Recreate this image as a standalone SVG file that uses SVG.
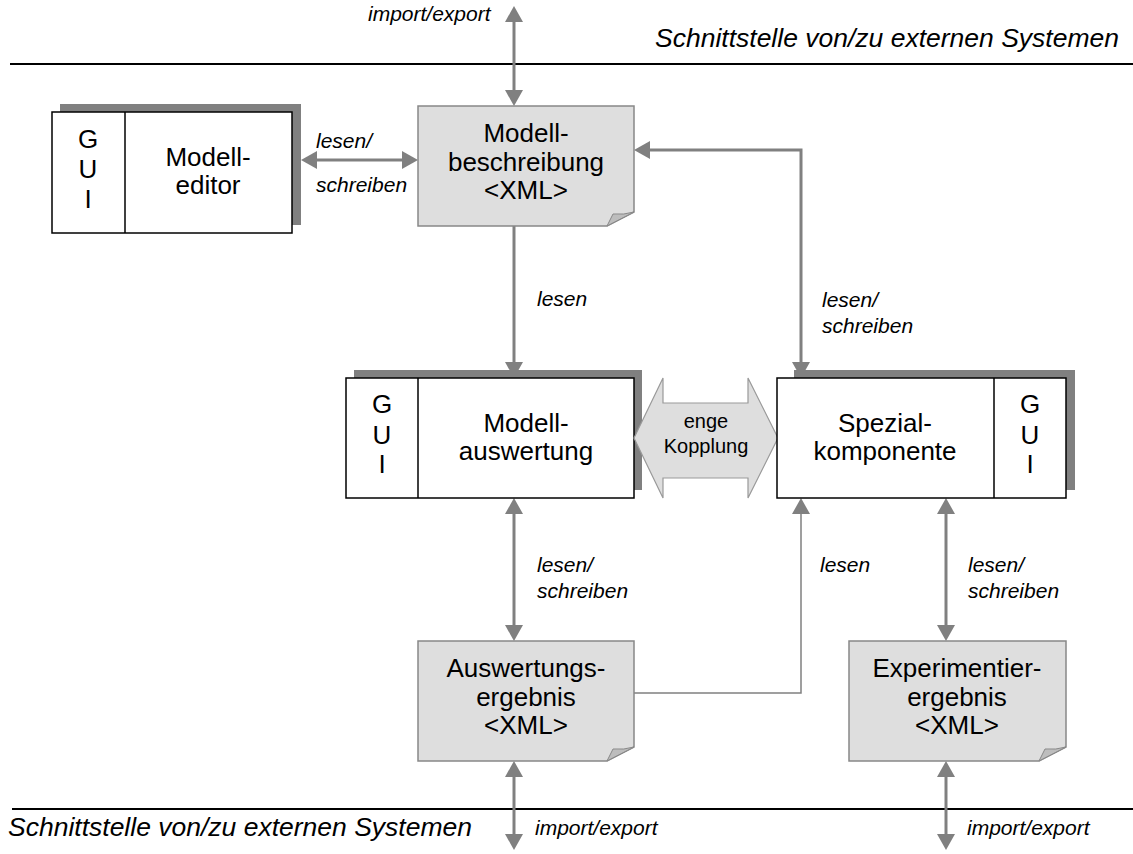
<svg xmlns="http://www.w3.org/2000/svg" width="1133" height="854" viewBox="0 0 1133 854">
  <style>
    text { font-family: "Liberation Sans", Arial, sans-serif; fill: #000; }
    .box { fill: #fff; stroke: #000; stroke-width: 1.5; }
    .shadow { fill: #808080; }
    .sep { stroke: #000; stroke-width: 1.5; }
    .doc { fill: #dedede; stroke: #888; stroke-width: 1.5; }
    .fold { fill: #bdbdbd; stroke: #888; stroke-width: 1; }
    .lbl { font-size: 26px; text-anchor: middle; }
    .note { font-size: 21px; font-style: italic; }
    .iface { font-size: 26.5px; font-style: italic; }
    .con { fill: none; stroke: #808080; stroke-width: 3; }
    .con.thin { stroke-width: 1.5; }
    .rule { stroke: #000; stroke-width: 2; }
  </style>
  <defs>
    <marker id="ah" viewBox="0 0 16 18" refX="12" refY="9" markerWidth="16" markerHeight="18" markerUnits="userSpaceOnUse" orient="auto-start-reverse">
      <path d="M0,0 L16,9 L0,18 Z" fill="#808080"/>
    </marker>
  </defs>
  <rect width="1133" height="854" fill="#fff"/>

  <!-- interface boundaries -->
  <g id="boundaries">
    <line class="rule" x1="10" y1="64" x2="1133" y2="64"/>
    <line class="rule" x1="12" y1="809" x2="1133" y2="809"/>
    <text class="iface" x="655" y="47">Schnittstelle von/zu externen Systemen</text>
    <text class="iface" x="8" y="836">Schnittstelle von/zu externen Systemen</text>
  </g>

  <!-- connectors -->
  <g id="connectors">
    <line class="con" x1="514" y1="10" x2="514" y2="102" marker-start="url(#ah)" marker-end="url(#ah)"/>
    <line class="con" x1="305" y1="160" x2="414" y2="160" marker-start="url(#ah)" marker-end="url(#ah)"/>
    <line class="con" x1="514" y1="226" x2="514" y2="374" marker-end="url(#ah)"/>
    <path class="con" d="M638,150 H801 V374" marker-start="url(#ah)" marker-end="url(#ah)"/>
    <line class="con" x1="514" y1="502" x2="514" y2="637" marker-start="url(#ah)" marker-end="url(#ah)"/>
    <path class="con thin" d="M634,693 H801 V502" marker-end="url(#ah)"/>
    <line class="con" x1="946" y1="502" x2="946" y2="637" marker-start="url(#ah)" marker-end="url(#ah)"/>
    <line class="con" x1="514" y1="765" x2="514" y2="846" marker-start="url(#ah)" marker-end="url(#ah)"/>
    <line class="con" x1="946" y1="765" x2="946" y2="846" marker-start="url(#ah)" marker-end="url(#ah)"/>

    <text class="note" x="368" y="21">import/export</text>
    <text class="note" x="316" y="148">lesen/</text>
    <text class="note" x="316" y="192">schreiben</text>
    <text class="note" x="537" y="306">lesen</text>
    <text class="note" x="822" y="307">lesen/</text>
    <text class="note" x="822" y="333">schreiben</text>
    <text class="note" x="537" y="572">lesen/</text>
    <text class="note" x="537" y="598">schreiben</text>
    <text class="note" x="820" y="572">lesen</text>
    <text class="note" x="968" y="572">lesen/</text>
    <text class="note" x="968" y="598">schreiben</text>
    <text class="note" x="535" y="835">import/export</text>
    <text class="note" x="967" y="835">import/export</text>
  </g>

  <!-- editor with GUI -->
  <g id="modelleditor">
    <rect class="shadow" x="60" y="104" width="241" height="121"/>
    <rect class="box" x="52" y="112" width="240" height="121"/>
    <line class="sep" x1="125" y1="112" x2="125" y2="233"/>
    <text class="lbl" x="88" y="148">G</text>
    <text class="lbl" x="88" y="178">U</text>
    <text class="lbl" x="88" y="208">I</text>
    <text class="lbl" x="208" y="166">Modell-</text>
    <text class="lbl" x="208" y="194">editor</text>
  </g>

  <!-- model description document -->
  <g id="modellbeschreibung">
    <path class="doc" d="M418,106 H634 V212 L607,226 H418 Z"/>
    <path class="fold" d="M607,226 L613,214 Q624,215 634,212 Z"/>
    <text class="lbl" x="526" y="142">Modell-</text>
    <text class="lbl" x="526" y="171">beschreibung</text>
    <text class="lbl" x="526" y="199">&lt;XML&gt;</text>
  </g>

  <!-- evaluation component with GUI -->
  <g id="modellauswertung">
    <rect class="shadow" x="354" y="370" width="288" height="120"/>
    <rect class="box" x="346" y="378" width="288" height="120"/>
    <line class="sep" x1="418" y1="378" x2="418" y2="498"/>
    <text class="lbl" x="382" y="413">G</text>
    <text class="lbl" x="382" y="444">U</text>
    <text class="lbl" x="382" y="473">I</text>
    <text class="lbl" x="526" y="432">Modell-</text>
    <text class="lbl" x="526" y="460">auswertung</text>
  </g>

  <!-- tight coupling block arrow -->
  <g id="kopplung">
    <path d="M634,438 L663,378 V403 H748 V378 L778,438 L748,498 V478 H663 V498 Z" fill="#dedede" stroke="#999" stroke-width="1.2"/>
    <text x="706" y="428" font-size="20" text-anchor="middle">enge</text>
    <text x="706" y="453" font-size="20" text-anchor="middle">Kopplung</text>
  </g>

  <!-- special component with GUI -->
  <g id="spezialkomponente">
    <rect class="shadow" x="794" y="370" width="281" height="120"/>
    <rect class="box" x="777" y="378" width="289" height="120"/>
    <line class="sep" x1="994" y1="378" x2="994" y2="498"/>
    <text class="lbl" x="1030" y="413">G</text>
    <text class="lbl" x="1030" y="444">U</text>
    <text class="lbl" x="1030" y="473">I</text>
    <text class="lbl" x="885" y="432">Spezial-</text>
    <text class="lbl" x="885" y="460">komponente</text>
  </g>

  <!-- evaluation result document -->
  <g id="auswertungsergebnis">
    <path class="doc" d="M418,641 H634 V747 L607,761 H418 Z"/>
    <path class="fold" d="M607,761 L613,749 Q624,750 634,747 Z"/>
    <text class="lbl" x="526" y="677">Auswertungs-</text>
    <text class="lbl" x="526" y="706">ergebnis</text>
    <text class="lbl" x="526" y="734">&lt;XML&gt;</text>
  </g>

  <!-- experiment result document -->
  <g id="experimentierergebnis">
    <path class="doc" d="M849,641 H1066 V747 L1039,761 H849 Z"/>
    <path class="fold" d="M1039,761 L1045,749 Q1056,750 1066,747 Z"/>
    <text class="lbl" x="957" y="677">Experimentier-</text>
    <text class="lbl" x="957" y="706">ergebnis</text>
    <text class="lbl" x="957" y="734">&lt;XML&gt;</text>
  </g>
</svg>
